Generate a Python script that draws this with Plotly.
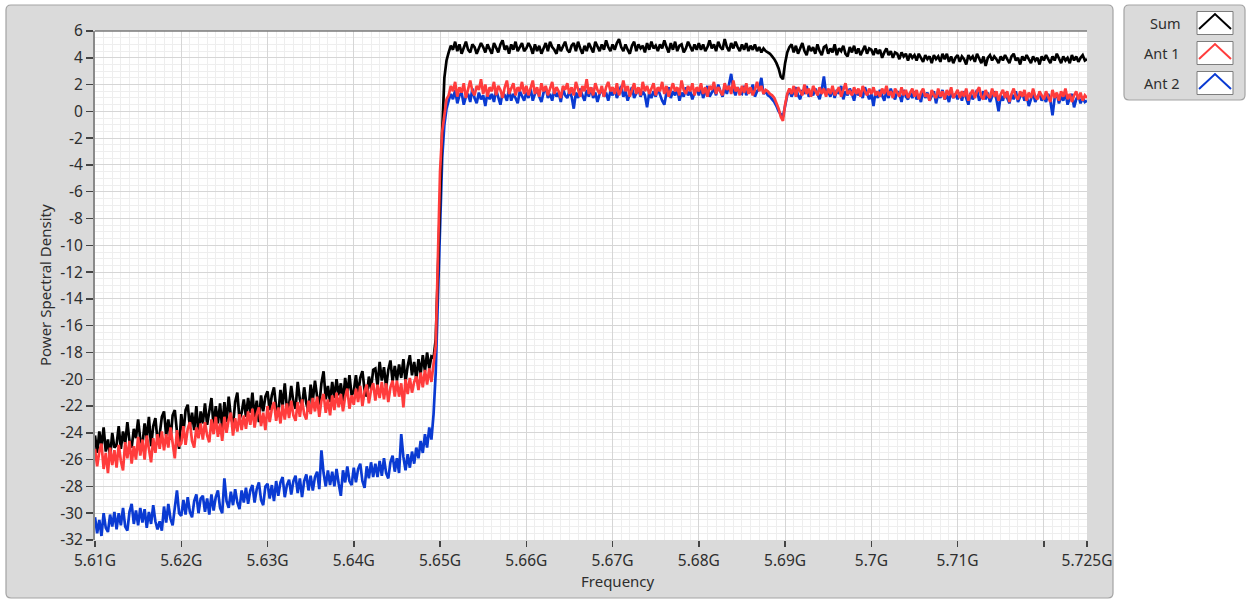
import plotly.graph_objects as go

W, H = 1247, 601

# Spectrum sampling: 0.25 MHz bins from 5.610 GHz to 5.725 GHz
F_START_GHZ = 5.61
F_STEP_GHZ = 0.00025
N_BINS = 461
freq_ghz = [round(F_START_GHZ + F_STEP_GHZ * i, 5) for i in range(N_BINS)]

# Power spectral density per bin (one row = 2.5 MHz below the band edge,
# 5 MHz inside the band)
sum_psd = [
    -24.2, -25.5, -23.9, -25.0, -23.6, -25.4, -24.5, -25.8, -24.0, -25.1,
    -24.9, -23.5, -25.2, -23.9, -24.8, -23.2, -24.6, -25.1, -23.7, -24.4,
    -23.0, -24.5, -24.9, -23.3, -24.4, -22.8, -25.0, -23.5, -22.9, -24.6,
    -24.1, -22.8, -22.4, -24.2, -23.0, -24.5, -22.7, -22.3, -23.9, -25.2,
    -22.6, -24.0, -22.3, -21.9, -23.6, -22.5, -23.8, -22.0, -24.2, -22.4,
    -23.3, -21.8, -23.4, -22.2, -21.4, -23.6, -22.0, -23.3, -21.8, -23.7,
    -21.7, -23.2, -21.3, -22.8, -23.4, -21.7, -21.0, -23.0, -22.5, -21.5,
    -22.8, -21.4, -22.5, -21.0, -22.9, -21.6, -23.2, -21.2, -22.4, -21.3,
    -20.9, -22.3, -21.2, -20.6, -22.1, -22.6, -20.8, -22.0, -20.3, -22.2,
    -21.9, -20.5, -21.7, -22.2, -20.2, -21.5, -22.0, -20.6, -21.8, -22.4,
    -20.4, -21.6, -20.1, -21.3, -21.9, -20.3, -19.4, -21.5, -20.5, -21.7,
    -20.2, -21.4, -20.0, -21.2, -20.3, -21.7, -19.9, -21.1, -19.7, -21.2,
    -20.9, -19.7, -21.1, -19.9, -19.4, -20.8, -21.3, -19.8, -20.7, -19.3,
    -19.2, -20.5, -18.7, -20.1, -19.1, -20.6, -19.3, -18.6, -20.2, -19.0,
    -20.1, -18.9, -19.9, -18.5, -20.2, -19.0, -18.2, -19.7, -18.7, -20.0,
    -18.5, -19.6, -18.2, -19.4, -18.0, -19.2, -18.3, -18.4, -17.0, -12.0,
    -6.0, -1.5, 2.5, 3.8,
    4.4, 4.9, 4.6, 5.2, 4.5, 5.0, 4.3, 4.8, 5.2, 4.6, 4.4, 5.0, 4.8, 4.3, 4.7, 5.1,
    4.8, 4.4, 5.0, 4.6, 4.3, 5.1, 4.8, 4.4, 5.0, 5.3, 4.6, 4.9, 4.3, 5.0, 4.6, 5.2, 4.5, 4.8, 5.1, 4.5,
    4.7, 5.1, 4.8, 4.3, 5.0, 4.5, 4.9, 4.3, 4.7, 5.1, 4.5, 5.2, 4.8, 4.6, 4.3, 5.0, 4.5, 4.8, 5.2, 4.6,
    4.4, 4.9, 5.1, 4.5, 5.2, 4.7, 4.3, 4.9, 4.5, 5.1, 4.7, 4.4, 5.2, 4.8, 4.5, 5.0, 4.6, 5.3, 4.8, 4.5,
    5.0, 4.6, 5.1, 5.4, 4.8, 4.5, 5.0, 4.6, 4.3, 4.9, 5.2, 4.5, 5.0, 4.7, 4.9, 4.4, 5.1, 4.6, 5.2, 4.7,
    4.9, 4.5, 5.0, 4.7, 5.3, 4.8, 4.4, 5.1, 4.6, 5.2, 4.5, 4.9, 5.0, 4.4, 4.7, 5.2, 4.8, 4.5, 5.0, 4.6,
    5.1, 4.6, 5.0, 4.5, 4.8, 5.3, 4.7, 5.0, 4.5, 5.2, 4.8, 4.6, 5.4, 4.8, 4.5, 5.1, 4.7, 5.2, 4.8, 4.5,
    5.0, 4.6, 5.1, 4.5, 4.9, 4.6, 5.0, 4.5, 4.8, 4.4, 4.7, 4.5, 4.4, 4.3, 4.1, 3.9, 3.6, 3.2, 2.6, 2.4,
    3.6, 4.4, 4.8, 5.0, 4.4, 4.9, 4.3, 4.7, 5.1, 4.5, 4.2, 4.9, 4.5, 4.8, 4.3, 5.0, 4.5, 4.2, 4.8, 4.9,
    4.3, 4.7, 4.4, 5.0, 4.2, 4.7, 4.5, 4.9, 4.3, 4.1, 4.8, 4.4, 4.9, 4.3, 4.7, 4.2, 4.5, 4.9, 4.3, 4.7,
    4.6, 4.2, 4.7, 4.3, 4.6, 4.0, 4.4, 4.7, 4.2, 4.5, 4.0, 4.4, 4.3, 3.9, 4.4, 4.1, 4.3, 3.8, 4.3, 4.0,
    4.2, 3.8, 4.3, 4.0, 3.7, 4.2, 3.9, 4.1, 3.6, 4.2, 3.9, 4.1, 3.7, 4.3, 3.9, 4.3, 3.7, 4.1, 3.6, 4.0,
    4.2, 3.7, 4.1, 3.9, 3.5, 4.2, 3.9, 4.1, 3.7, 4.3, 3.9, 3.6, 4.1, 3.4, 4.0, 4.2, 3.8, 4.1, 3.9, 3.6,
    4.1, 3.8, 4.2, 3.9, 3.6, 4.1, 4.3, 3.8, 4.0, 3.5, 4.1, 3.8, 4.2, 3.9, 3.6, 4.1, 3.8, 4.0, 3.5, 4.1,
    3.8, 4.2, 3.9, 3.6, 4.1, 3.8, 4.3, 3.9, 3.6, 4.1, 3.8, 4.0, 3.6, 4.2, 3.8, 4.1, 3.7, 4.0, 4.2, 3.8,
    3.9,
]

ant1_psd = [
    -25.2, -26.5, -25.4, -24.8, -26.7, -25.5, -27.0, -25.1, -26.4, -25.3,
    -26.6, -24.9, -26.1, -26.8, -24.7, -25.9, -24.6, -26.3, -25.0, -26.0,
    -24.3, -25.7, -24.5, -26.0, -24.2, -25.4, -26.2, -24.4, -25.5, -24.1,
    -25.2, -23.9, -25.3, -24.1, -25.1, -23.6, -24.8, -25.9, -23.8, -25.0,
    -24.8, -23.5, -24.9, -23.7, -23.2, -24.6, -25.1, -23.6, -24.4, -23.3,
    -24.5, -23.2, -24.2, -24.7, -23.0, -24.1, -22.8, -24.3, -23.3, -24.6,
    -22.8, -24.0, -23.0, -22.5, -24.2, -22.9, -23.9, -22.6, -23.8, -22.7,
    -23.7, -22.4, -23.4, -22.2, -23.6, -22.6, -22.1, -23.5, -22.5, -23.8,
    -22.0, -23.2, -22.2, -21.7, -23.1, -22.1, -23.3, -21.9, -23.0, -21.8,
    -22.9, -21.6, -22.7, -23.1, -21.7, -22.8, -21.5, -22.6, -23.0, -21.6,
    -22.6, -21.4, -22.4, -21.3, -22.8, -21.6, -21.1, -22.5, -21.5, -22.7,
    -21.2, -22.3, -21.0, -22.1, -21.1, -22.4, -21.3, -20.7, -22.2, -21.2,
    -21.9, -20.7, -21.7, -20.5, -22.0, -20.9, -20.4, -21.8, -20.8, -20.3,
    -21.6, -20.4, -21.4, -20.2, -21.5, -20.3, -21.7, -20.6, -20.1, -21.3,
    -20.1, -21.3, -20.3, -22.1, -20.0, -21.1, -19.9, -21.0, -20.2, -19.8,
    -20.8, -19.5, -20.6, -19.3, -20.4, -19.2, -20.2, -19.0, -17.5, -11.0,
    -4.5, -1.5, -0.3, 0.9,
    1.2, 1.9, 1.5, 2.2, 1.1, 1.8, 1.4, 2.1, 1.0, 1.7, 2.3, 1.5, 1.2, 1.9, 1.6, 2.4,
    1.3, 2.0, 1.1, 1.8, 1.5, 2.2, 1.2, 1.9, 1.6, 1.0, 1.8, 2.3, 1.3, 1.7, 2.1, 1.2, 1.8, 1.5, 2.2, 1.3,
    1.9, 1.2, 1.7, 2.3, 1.3, 1.8, 1.1, 2.1, 1.5, 1.9, 1.2, 1.7, 2.2, 1.3, 1.8, 1.5, 1.0, 1.9, 1.6, 2.1,
    1.3, 1.8, 1.2, 2.2, 1.6, 1.1, 1.9, 1.5, 2.4, 1.3, 1.8, 1.2, 2.1, 1.6, 1.3, 1.9, 1.1, 1.8, 2.2, 1.5,
    1.8, 1.3, 2.1, 1.2, 1.6, 2.3, 1.5, 1.9, 1.1, 1.6, 2.1, 1.3, 1.8, 1.2, 2.2, 1.5, 1.9, 1.3, 1.7, 2.1,
    1.2, 1.8, 1.5, 2.2, 1.3, 1.9, 1.1, 1.6, 2.1, 1.5, 1.8, 1.2, 2.3, 1.6, 1.3, 1.9, 1.5, 2.1, 1.2, 1.8,
    1.5, 2.1, 1.3, 1.8, 1.1, 1.9, 1.6, 2.2, 1.3, 1.8, 1.5, 1.2, 2.1, 1.6, 1.9, 1.3, 2.3, 1.5, 1.8, 1.2,
    1.9, 1.4, 2.1, 1.3, 1.8, 1.2, 1.6, 2.2, 1.5, 1.9, 1.3, 1.6, 1.5, 1.3, 1.2, 1.0, 0.6, 0.2, -0.4, -0.7,
    0.5, 1.3, 1.7, 1.3, 1.9, 1.1, 1.8, 1.5, 1.2, 2.0, 1.3, 1.7, 1.1, 1.9, 1.5, 1.2, 1.8, 1.3, 1.7, 1.1,
    1.7, 1.3, 1.9, 1.2, 1.5, 1.8, 1.1, 1.6, 2.1, 1.3, 1.5, 1.2, 1.8, 1.3, 1.7, 1.1, 1.9, 1.5, 1.2, 1.7,
    1.3, 1.8, 1.2, 1.5, 1.1, 1.7, 1.3, 1.9, 1.2, 1.5, 1.0, 1.7, 1.4, 1.1, 1.8, 1.2, 1.6, 1.0, 1.4, 1.7,
    1.1, 1.6, 0.9, 1.4, 1.7, 1.1, 1.3, 0.8, 1.6, 1.2, 1.0, 1.7, 1.1, 1.5, 0.9, 1.6, 1.2, 1.8, 1.0, 1.3,
    1.6, 1.0, 1.5, 1.1, 1.7, 0.8, 1.3, 1.6, 1.0, 1.5, 1.8, 1.1, 0.9, 1.6, 1.2, 1.0, 1.7, 1.1, 1.5, 0.8,
    1.3, 1.6, 1.0, 1.5, 0.7, 1.3, 1.7, 1.1, 0.9, 1.5, 1.1, 1.6, 0.8, 1.4, 1.0, 1.7, 1.1, 0.9, 1.5, 1.2,
    0.9, 1.5, 1.1, 0.7, 1.6, 1.0, 1.4, 0.8, 1.5, 1.1, 1.7, 0.9, 1.3, 0.7, 1.2, 1.5, 0.9, 1.4, 0.8, 1.2,
    1.0,
]

ant2_psd = [
    -30.3, -31.5, -30.5, -31.7, -30.0, -31.1, -31.4, -30.1, -31.0, -29.9,
    -31.2, -30.0, -30.9, -29.6, -31.0, -31.3, -29.9, -29.3, -30.8, -29.8,
    -30.9, -29.6, -30.7, -29.7, -31.1, -29.9, -30.8, -29.4, -30.6, -31.2,
    -30.6, -31.3, -29.5, -30.7, -29.3, -30.4, -30.9, -29.6, -28.3, -30.0,
    -30.2, -29.0, -30.1, -28.8, -29.9, -30.3, -29.1, -28.6, -30.0, -28.9,
    -28.7, -29.9, -28.9, -30.1, -28.6, -29.8, -28.8, -28.3, -29.6, -30.0,
    -27.4, -29.1, -29.6, -28.4, -29.4, -28.2, -29.2, -29.7, -28.3, -29.2,
    -28.1, -29.3, -28.3, -27.9, -29.2, -28.2, -27.7, -29.0, -29.4, -28.0,
    -27.8, -28.9, -27.9, -29.1, -27.6, -28.7, -27.7, -27.3, -28.8, -27.9,
    -27.5, -28.6, -27.6, -27.2, -28.5, -27.4, -28.8, -27.6, -27.1, -28.3,
    -27.2, -28.3, -27.3, -26.9, -28.2, -25.3, -27.0, -28.0, -26.8, -27.9,
    -26.9, -28.0, -26.7, -27.8, -28.7, -26.8, -27.7, -26.5, -27.6, -27.9,
    -26.6, -27.7, -26.7, -26.3, -27.6, -28.1, -26.5, -27.4, -26.2, -27.3,
    -26.3, -27.3, -26.1, -27.2, -25.9, -27.0, -27.4, -26.2, -25.7, -26.9,
    -25.9, -27.0, -24.1, -25.8, -26.8, -25.6, -26.6, -25.4, -26.3, -25.1,
    -25.9, -24.6, -25.5, -24.1, -25.1, -23.6, -24.5, -22.6, -19.5, -14.0,
    -8.0, -3.5, -1.0, 0.2,
    0.8, 1.3, 0.9, 1.6, 0.6, 1.2, 1.4, 0.5, 1.1, 1.3, 0.7, 1.7, 1.0, 0.6, 1.4, 0.9,
    1.2, 0.4, 1.4, 0.9, 1.3, 0.7, 1.6, 1.0, 0.5, 1.4, 1.2, 0.8, 1.7, 0.8, 1.3, 1.0, 0.6, 1.5, 1.2, 0.8,
    1.4, 1.0, 1.7, 0.8, 1.3, 1.6, 1.1, 0.7, 1.4, 1.8, 1.0, 1.3, 0.8, 1.6, 1.1, 1.4, 0.7, 1.7, 1.2, 1.0,
    1.5, 1.1, 0.2, 1.4, 1.0, 1.7, 1.2, 0.8, 1.6, 1.1, 1.8, 1.0, 1.4, 0.7, 1.3, 1.7, 1.1, 1.4, 0.8, 1.5,
    1.2, 1.7, 1.0, 1.4, 1.9, 1.1, 1.5, 0.8, 1.3, 1.8, 1.0, 1.4, 1.7, 1.1, 1.5, 1.2, 0.3, 1.4, 1.0, 1.5,
    1.1, 1.7, 1.2, 0.8, 0.5, 1.4, 1.8, 1.0, 1.5, 1.2, 1.7, 0.8, 1.4, 1.1, 1.8, 1.2, 1.5, 0.9, 1.4, 1.7,
    1.2, 1.8, 1.0, 1.5, 1.9, 1.1, 1.4, 1.7, 1.2, 2.0, 1.5, 1.1, 1.8, 1.3, 2.0, 2.8, 1.6, 1.2, 1.8, 1.4,
    1.3, 1.9, 1.2, 1.6, 1.4, 2.0, 1.1, 1.5, 1.7, 2.5, 1.3, 1.5, 1.2, 1.1, 0.9, 0.7, 0.4, 0.0, -0.2, -0.4,
    0.4, 1.2, 1.6, 1.1, 1.5, 1.8, 1.2, 0.9, 1.6, 1.3, 1.9, 1.1, 1.5, 1.2, 1.7, 1.3, 0.9, 1.6, 2.6, 1.3,
    1.5, 1.1, 1.7, 1.0, 1.6, 1.3, 1.9, 0.9, 1.5, 1.2, 1.7, 1.3, 0.8, 1.6, 1.2, 1.5, 1.0, 1.8, 1.3, 0.9,
    1.3, 0.4, 1.5, 1.0, 1.6, 1.2, 0.8, 1.5, 1.0, 1.7, 1.2, 0.9, 1.5, 1.3, 0.7, 1.6, 1.1, 0.9, 1.4, 1.0,
    1.5, 0.9, 1.2, 0.7, 1.6, 1.0, 1.4, 0.8, 1.2, 1.5, 0.6, 1.3, 1.0, 1.6, 0.9, 1.2, 0.7, 1.5, 1.0, 1.3,
    0.9, 1.4, 0.8, 1.5, 1.0, 0.5, 1.4, 0.9, 1.2, 1.6, 0.8, 1.2, 1.5, 0.9, 1.4, 0.7, 1.1, 1.5, 0.9, 0.0,
    1.2, 0.8, 1.4, 1.0, 0.6, 1.3, 0.9, 1.5, 0.7, 1.1, 1.4, 0.8, 1.2, 0.4, 1.0, 1.4, 0.7, 1.1, 1.3, 0.8,
    1.1, 0.7, 1.3, 0.8, -0.3, 1.0, 1.3, 0.6, 1.1, 0.8, 1.4, 0.5, 1.0, 1.3, 0.3, 0.9, 1.2, 0.6, 1.0, 0.7,
    0.8,
]

for _series in (sum_psd, ant1_psd, ant2_psd):
    if len(_series) != N_BINS:
        raise ValueError(f"expected {N_BINS} bins, got {len(_series)}")

series_names = ["Sum", "Ant 1", "Ant 2"]
series_colors = ["#000000", "#ff3c3c", "#0a3ad2"]

x_tick_vals = [5.61, 5.62, 5.63, 5.64, 5.65, 5.66, 5.67, 5.68, 5.69, 5.70, 5.71, 5.72, 5.725]
x_tick_text = ["5.61G", "5.62G", "5.63G", "5.64G", "5.65G", "5.66G", "5.67G",
               "5.68G", "5.69G", "5.7G", "5.71G", "", "5.725G"]
y_tick_vals = list(range(-32, 7, 2))

FONT = "Noto Sans, Open Sans, sans-serif"
TEXT_COLOR = "#2e2e2e"
PANEL_FILL = "#dadada"
PANEL_EDGE = "#a3a3a3"

# Plot area in pixels
PL, PR, PT, PB = 95, 1087, 31, 540


def px(x):
    return x / W


def py(y):
    return 1 - y / H


def rounded_rect(x0, y0, x1, y1, r):
    pts = [
        ("M", [(x0 + r, y0)]),
        ("L", [(x1 - r, y0)]),
        ("Q", [(x1, y0), (x1, y0 + r)]),
        ("L", [(x1, y1 - r)]),
        ("Q", [(x1, y1), (x1 - r, y1)]),
        ("L", [(x0 + r, y1)]),
        ("Q", [(x0, y1), (x0, y1 - r)]),
        ("L", [(x0, y0 + r)]),
        ("Q", [(x0, y0), (x0 + r, y0)]),
    ]
    parts = []
    for cmd, coords in pts:
        parts.append(cmd + " " + " ".join(f"{px(a):.5f},{py(b):.5f}" for a, b in coords))
    return " ".join(parts) + " Z"


fig = go.Figure()

# Draw order: Ant 2 underneath, then Sum, then Ant 1 on top
for name, ys, color in [
    ("Ant 2", ant2_psd, series_colors[2]),
    ("Sum", sum_psd, series_colors[0]),
    ("Ant 1", ant1_psd, series_colors[1]),
]:
    fig.add_trace(go.Scatter(
        x=freq_ghz, y=ys, mode="lines", name=name,
        line=dict(color=color, width=2.7),
        hoverinfo="skip", showlegend=False,
    ))

shapes = [
    # graph panel
    dict(type="path", xref="paper", yref="paper", layer="below",
         path=rounded_rect(6, 5, 1113, 598, 5),
         fillcolor=PANEL_FILL, line=dict(color=PANEL_EDGE, width=1.2)),
    # legend panel
    dict(type="path", xref="paper", yref="paper", layer="below",
         path=rounded_rect(1124, 5, 1245, 100, 5),
         fillcolor=PANEL_FILL, line=dict(color=PANEL_EDGE, width=1.2)),
    # plot area background
    dict(type="rect", xref="x domain", yref="y domain", layer="below",
         x0=0, x1=1, y0=0, y1=1, fillcolor="#ffffff", line=dict(width=0)),
    # top frame line
    dict(type="line", xref="x domain", yref="y domain", layer="above",
         x0=0, x1=1, y0=1, y1=1, line=dict(color="#7a7a7a", width=1.5)),
]

annotations = []

# Legend entries: label on the left, line swatch on the right
legend_rows_y = [23, 53, 83]
for name, color, cy in zip(series_names, series_colors, legend_rows_y):
    annotations.append(dict(
        xref="paper", yref="paper", x=px(1182), y=py(cy),
        text=name, showarrow=False, xanchor="right", yanchor="middle",
        font=dict(family=FONT, size=14.5, color=TEXT_COLOR),
    ))
    shapes.append(dict(
        type="rect", xref="paper", yref="paper", layer="above",
        x0=px(1197), x1=px(1233), y0=py(cy - 11.5), y1=py(cy + 11.5),
        fillcolor="#ffffff", line=dict(color="#7d7d7d", width=1),
    ))
    shapes.append(dict(
        type="path", xref="paper", yref="paper", layer="above",
        path=(f"M {px(1199):.5f},{py(cy + 6):.5f} "
              f"L {px(1215):.5f},{py(cy - 9):.5f} "
              f"L {px(1231):.5f},{py(cy + 6):.5f}"),
        line=dict(color=color, width=2),
    ))

# Axis titles
annotations.append(dict(
    xref="paper", yref="paper", x=px(45), y=py(285),
    text="Power Spectral Density", textangle=-90, showarrow=False,
    xanchor="center", yanchor="middle",
    font=dict(family=FONT, size=15, color=TEXT_COLOR),
))
annotations.append(dict(
    xref="paper", yref="paper", x=px(618), y=py(581),
    text="Frequency", showarrow=False, xanchor="center", yanchor="middle",
    font=dict(family=FONT, size=15, color=TEXT_COLOR),
))

fig.update_layout(
    width=W, height=H, autosize=False,
    margin=dict(l=0, r=0, t=0, b=0, pad=0, autoexpand=False),
    paper_bgcolor="#ffffff",
    plot_bgcolor="#ffffff",
    showlegend=False,
    shapes=shapes,
    annotations=annotations,
    font=dict(family=FONT, color=TEXT_COLOR),
    xaxis=dict(
        domain=[px(PL), px(PR)],
        range=[5.61, 5.725],
        tickmode="array", tickvals=x_tick_vals, ticktext=x_tick_text,
        ticks="outside", ticklen=6, tickwidth=1.5, tickcolor="#444444",
        tickfont=dict(family=FONT, size=15.5, color=TEXT_COLOR),
        showgrid=True, gridcolor="#d6d6d6", gridwidth=1,
        minor=dict(tick0=5.61, dtick=0.001, showgrid=True,
                   gridcolor="#eeeeee", gridwidth=1, ticks=""),
        showline=False, zeroline=False, fixedrange=True, automargin=False,
    ),
    yaxis=dict(
        domain=[py(PB), py(PT)],
        range=[-32, 6],
        tickmode="array", tickvals=y_tick_vals,
        ticktext=[str(v) for v in y_tick_vals],
        ticks="outside", ticklen=7, tickwidth=1.5, tickcolor="#444444",
        tickfont=dict(family=FONT, size=15.5, color=TEXT_COLOR),
        showgrid=True, gridcolor="#d6d6d6", gridwidth=1,
        minor=dict(tick0=0, dtick=0.5, showgrid=True,
                   gridcolor="#eeeeee", gridwidth=1, ticks=""),
        showline=True, linecolor="#8a8a8a", linewidth=2,
        zeroline=False, fixedrange=True, automargin=False,
    ),
)

fig.write_html("out.html", config={"displayModeBar": False, "staticPlot": True})
